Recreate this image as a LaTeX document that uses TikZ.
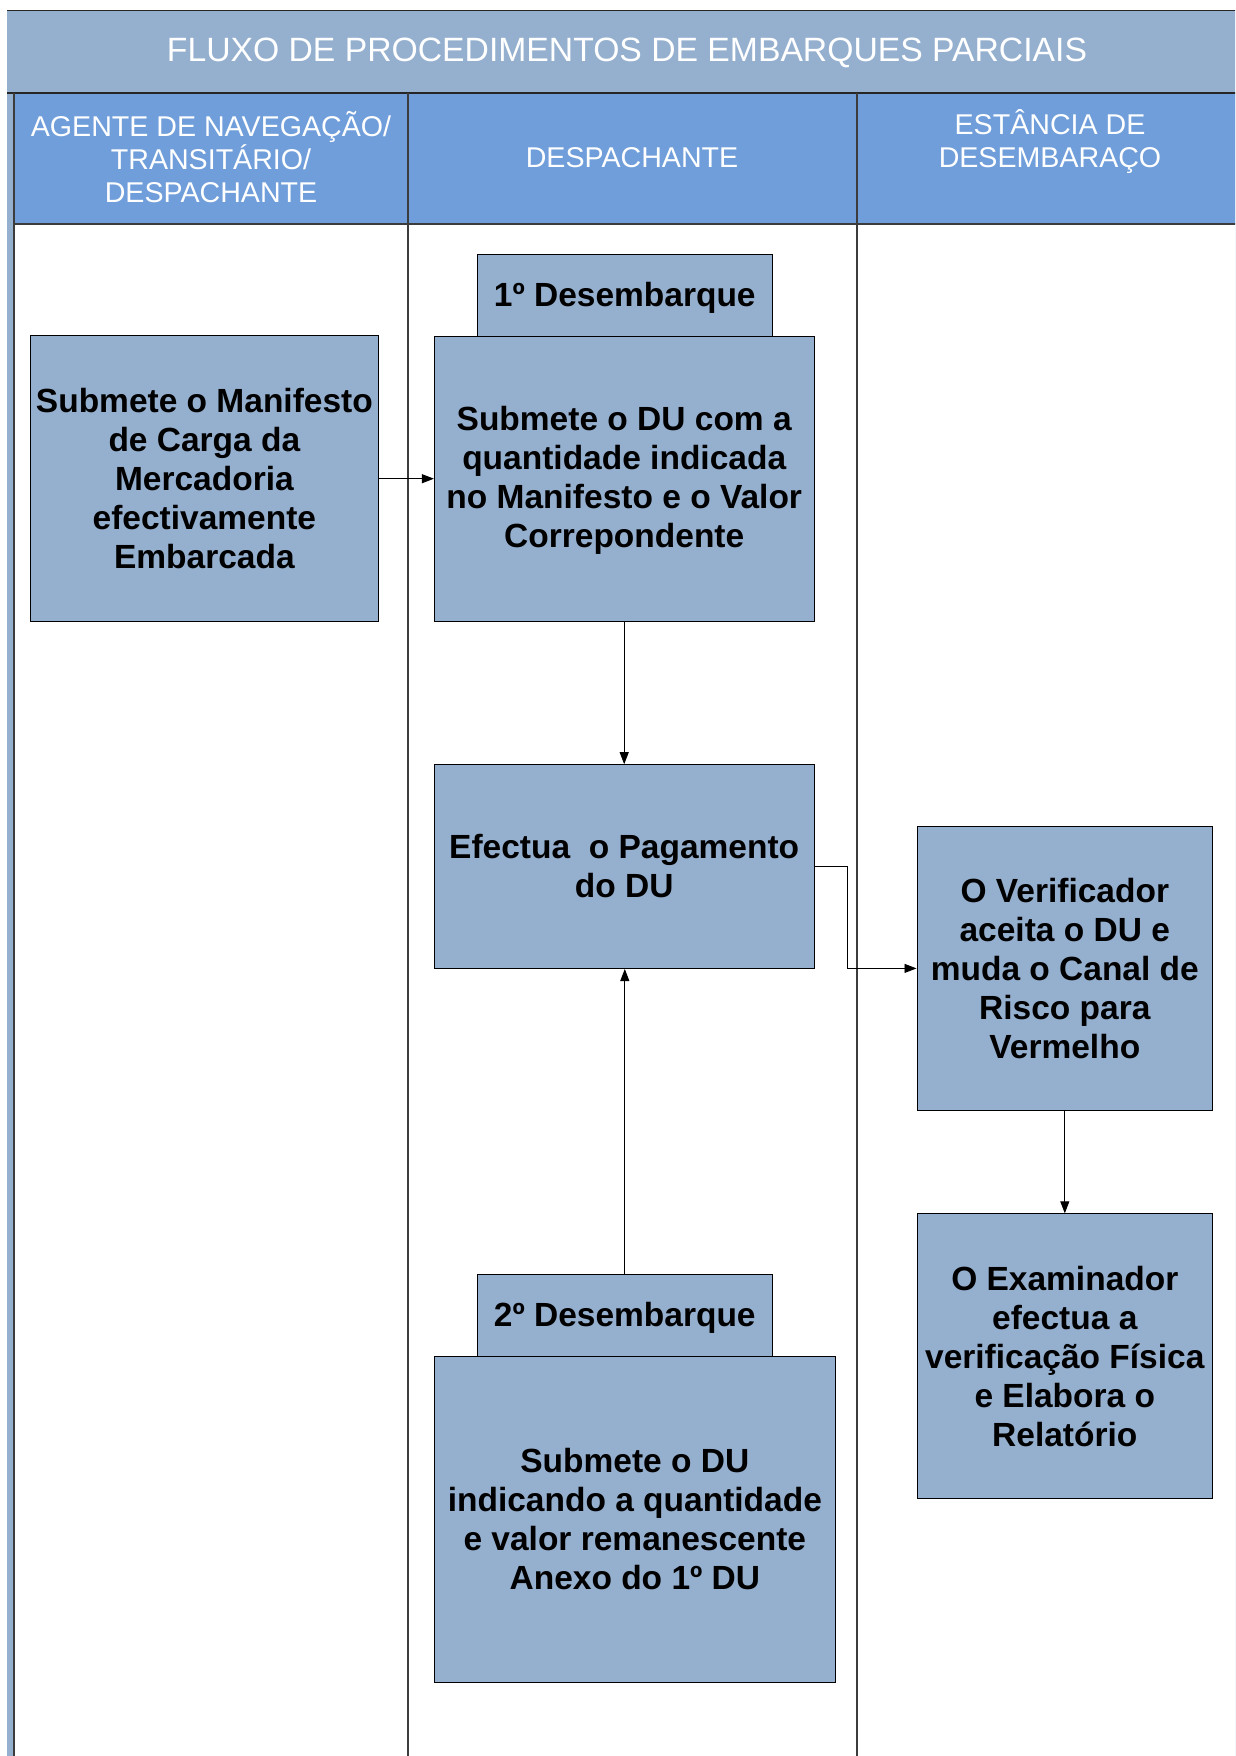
\documentclass[tikz,border=0pt]{standalone}
\usepackage{fontspec}
\setmainfont{Liberation Sans}
\usetikzlibrary{arrows.meta}
\definecolor{titleblue}{RGB}{149,176,207}
\definecolor{headblue}{RGB}{112,158,218}
\definecolor{boxblue}{RGB}{149,175,206}
\definecolor{lanegray}{RGB}{60,60,60}
\begin{document}
\begin{tikzpicture}[x=1pt,y=-1pt,
  box/.style={draw=black, line width=1pt, fill=boxblue, inner sep=0pt},
  lbl/.style={align=center, inner sep=0pt, font=\fontsize{33.5}{39}\selectfont\bfseries},
  flow/.style={-{Triangle[length=12pt,width=9pt]}, line width=0.9pt},
  lane/.style={draw=lanegray, line width=2pt},
  head/.style={text=white, align=center, inner sep=0pt, font=\fontsize{28.6}{33.2}\selectfont},
  titletext/.style={text=white, inner sep=0pt, font=\fontsize{33.7}{40}\selectfont}]
\useasboundingbox (0,0) rectangle (1235,1756);
\fill[white] (0,0) rectangle (1235,1756);
\begin{scope}
\clip (0,0) rectangle (1235,1756);
\fill[titleblue] (7,10.5) rectangle (1245,1770);
\draw[line width=1.5pt, black!85] (7,10.5) -- (1245,10.5);
\fill[white] (14,93) rectangle (1245,1770);
\fill[headblue] (14,93) rectangle (1245,224);
\draw[line width=1.2pt, lanegray] (14,224) -- (1245,224);
\draw[line width=2pt, black!85] (7,93) -- (1245,93);
\draw[lane] (14,93) -- (14,1770);
\draw[lane] (408,93) -- (408,1770);
\draw[lane] (857,93) -- (857,1770);
\end{scope}
% titles
\node[titletext] (title) at (627,53) {FLUXO DE PROCEDIMENTOS DE EMBARQUES PARCIAIS};
\node[head] (h1) at (211,157) {AGENTE DE NAVEGAÇÃO/\\TRANSITÁRIO/\\DESPACHANTE};
\node[head] (h2) at (632,158) {DESPACHANTE};
\node[head] (h3) at (1050,141.5) {ESTÂNCIA DE\\DESEMBARAÇO};
% boxes
\node[box, minimum width=348.3pt, minimum height=285.5pt] (manif) at (204.4,478.7) {};
\node[lbl] (manifT) at (204.4,478.7)
  {Submete o Manifesto\\de Carga da\\Mercadoria\\efectivamente\\Embarcada};
\node[box, minimum width=295.6pt, minimum height=82pt] (tab1) at (624.8,295) {};
\node[lbl] (tab1T) at (624.8,297.5) {1º Desembarque};
\node[box, minimum width=379.6pt, minimum height=285.4pt] (du) at (624.2,478.7) {};
\node[lbl] (duT) at (624.2,480.7)
  {Submete o DU com a\\quantidade indicada\\no Manifesto e o Valor\\Correpondente};
\node[box, minimum width=379.6pt, minimum height=203.8pt] (efect) at (624.2,866.6) {};
\node[lbl] (efectT) at (624.2,865.6) {Efectua~~o Pagamento\\do DU};
\node[box, minimum width=295.6pt, minimum height=284.7pt] (verif) at (1064.8,968.4) {};
\node[lbl] (verifT) at (1064.8,968.4)
  {O Verificador\\aceita o DU e\\muda o Canal de\\Risco para\\Vermelho};
\node[box, minimum width=295.6pt, minimum height=284.2pt] (exam) at (1064.8,1355.9) {};
\node[lbl] (examT) at (1064.8,1356.4)
  {O Examinador\\efectua a\\verificação Física\\e Elabora o\\Relatório};
\node[box, minimum width=295.6pt, minimum height=82pt] (tab2) at (624.8,1315) {};
\node[lbl] (tab2T) at (624.8,1318) {2º Desembarque};
\node[box, minimum width=400.9pt, minimum height=326.5pt] (du2) at (634.85,1519.25) {};
\node[lbl] (du2T) at (634.85,1519.25)
  {Submete o DU\\indicando a quantidade\\e valor remanescente\\Anexo do 1º DU};
% connectors
\draw[flow] (manif.east) -- (du.west);
\draw[flow] (du.south) -- (efect.north);
\draw[flow] (tab2.north) -- (tab2.north |- efect.south);
\draw[flow] (efect.east) -- ++(32.7,0) |- (verif.west);
\draw[flow] (verif.south) -- (exam.north);
\end{tikzpicture}
\end{document}
